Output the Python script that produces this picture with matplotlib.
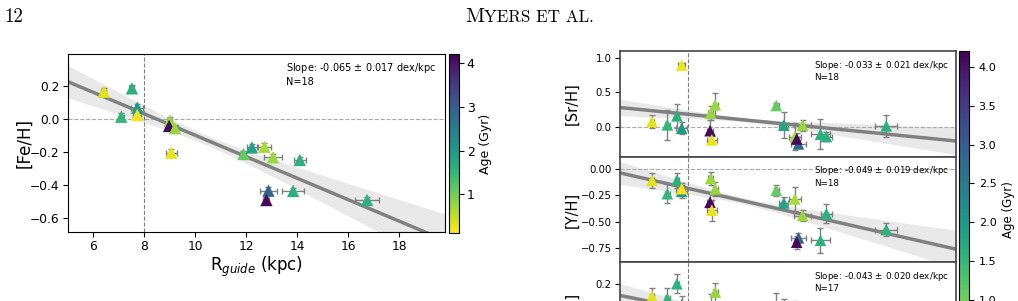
import numpy as np
import matplotlib
matplotlib.use("Agg")
import matplotlib.pyplot as plt
from matplotlib.colors import Normalize

# guiding radius (kpc) and age (Gyr) of the 18 clusters
r_guide = [6.41, 7.51, 7.72, 7.09, 7.72, 9.00, 8.97, 9.20, 9.05,
           11.89, 12.22, 12.71, 13.05, 14.10, 12.87, 12.79, 13.84, 16.74]
r_err = [0.10, 0.10, 0.23, 0.10, 0.15, 0.10, 0.15, 0.10, 0.22,
         0.10, 0.20, 0.26, 0.36, 0.24, 0.34, 0.12, 0.43, 0.48]
age = [0.30, 1.60, 2.00, 1.50, 0.20, 0.75, 4.10, 0.75, 0.25,
       1.10, 1.80, 0.65, 0.75, 1.60, 2.90, 4.10, 1.60, 1.60]

fe_h = [0.164, 0.184, 0.067, 0.012, 0.022, -0.012, -0.044, -0.058, -0.206,
        -0.214, -0.174, -0.170, -0.234, -0.250, -0.436, -0.493, -0.438, -0.493]
fe_err = [0.02, 0.02, 0.02, 0.02, 0.02, 0.02, 0.02, 0.02, 0.025,
          0.02, 0.02, 0.02, 0.02, 0.02, 0.02, 0.02, 0.02, 0.02]

sr_h = [0.073, 0.156, -0.024, 0.025, 0.897, 0.195, -0.060, 0.317, -0.195,
        0.307, 0.020, -0.146, 0.020, -0.146, -0.253, -0.180, -0.111, 0.010]
sr_err = [0.10, 0.18, 0.09, 0.22, 0.03, 0.10, 0.15, 0.17, 0.05,
          0.03, 0.19, 0.20, 0.08, 0.06, 0.06, 0.08, 0.22, 0.16]

y_h = [-0.108, -0.108, -0.213, -0.235, -0.187, -0.089, -0.317, -0.190, -0.393,
       -0.203, -0.323, -0.285, -0.443, -0.425, -0.655, -0.697, -0.678, -0.576]
y_err = [0.07, 0.07, 0.06, 0.09, 0.05, 0.06, 0.10, 0.07, 0.10,
         0.05, 0.06, 0.11, 0.05, 0.09, 0.05, 0.06, 0.12, 0.06]

ba_h = [0.08, 0.20, 0.00, 0.06, np.nan, -0.02, -0.15, 0.12, -0.12,
        -0.02, -0.05, -0.06, -0.30, -0.25, -0.35, -0.40, -0.30, -0.45]
ba_err = [0.08, 0.09, 0.08, 0.10, 0.0, 0.12, 0.10, 0.09, 0.10,
          0.13, 0.10, 0.10, 0.08, 0.09, 0.08, 0.08, 0.12, 0.08]

# linear fits: (intercept, slope, slope error, N)
fit_fe = (0.549, -0.065, 0.017, 18)
fit_sr = (0.443, -0.033, 0.021, 18)
fit_y = (0.208, -0.049, 0.019, 18)
fit_ba = (0.303, -0.043, 0.020, 17)

norm = Normalize(vmin=0.12, vmax=4.21)
cmap = "viridis_r"
xlim = (5.0, 19.8)
r_mean = 10.5


def draw_panel(ax, vals, errs, fit, size, fs, ty):
    ax.axvline(8, color="gray", ls="--", lw=0.8, zorder=1)
    ax.axhline(0, color="darkgray", ls="--", lw=0.8, zorder=1)
    xx = np.linspace(xlim[0] - 1, xlim[1] + 1, 200)
    b, m, dm, n = fit
    line = b + m * xx
    hw = np.sqrt(0.03 ** 2 + (dm * (xx - r_mean)) ** 2)
    ax.fill_between(xx, line - hw, line + hw, color="#e8e8e8", lw=0, zorder=0)
    ax.plot(xx, line, color="gray", lw=2.5, zorder=1.5)
    ax.errorbar(r_guide, vals, xerr=r_err, yerr=errs, fmt="none", ecolor="gray",
                elinewidth=1, capsize=2, capthick=1, zorder=2)
    sc = ax.scatter(r_guide, vals, c=age, cmap=cmap, norm=norm, marker="^",
                    s=size, zorder=3, linewidths=0)
    ax.text(0.578, ty, "Slope: %.3f $\\pm$ %.3f dex/kpc\nN=%d" % (m, dm, n),
            transform=ax.transAxes, fontsize=fs, va="top", ha="left",
            linespacing=1.25)
    ax.set_xlim(*xlim)
    return sc


fig = plt.figure(figsize=(10.18, 3.01), dpi=100)

# page header
fig.text(0.004, 0.943, "12", fontsize=13.5, family="cmr10", va="center")
fig.text(0.4575, 0.943, "M", fontsize=15, family="cmr10", va="center")
fig.text(0.4755, 0.943, "YERS ET AL.", fontsize=12.3, family="cmr10", va="center")

# left: [Fe/H]
ax = fig.add_axes([0.0668, 0.2292, 0.3703, 0.5914])
sc = draw_panel(ax, fe_h, fe_err, fit_fe, 80, 7.0, 0.96)
ax.set_ylim(-0.687, 0.392)
ax.set_xticks([6, 8, 10, 12, 14, 16, 18])
ax.set_yticks([-0.6, -0.4, -0.2, 0.0, 0.2])
ax.tick_params(labelsize=8.8, pad=2.5)
ax.set_ylabel("[Fe/H]", fontsize=12)
ax.yaxis.set_label_coords(-0.093, 0.5)
ax.set_xlabel("R$_{guide}$ (kpc)", fontsize=12, labelpad=1)
cax = fig.add_axes([0.4411, 0.2260, 0.0098, 0.5946])
cb = fig.colorbar(sc, cax=cax, ticks=[1, 2, 3, 4])
cb.ax.tick_params(labelsize=9, pad=2)
cb.set_label("Age (Gyr)", fontsize=9, labelpad=3)

# right: stacked abundance panels
h = 0.3505
lefts = 0.609
w = 0.3298
panels = [
    (sr_h, sr_err, fit_sr, "[Sr/H]", (-0.44, 1.10), [0.0, 0.5, 1.0], "%.1f"),
    (y_h, y_err, fit_y, "[Y/H]", (-0.887, 0.117), [-0.75, -0.5, -0.25, 0.0], "%.2f"),
    (ba_h, ba_err, fit_ba, "[Ba/H]", (-0.6, 0.405), [-0.4, -0.2, 0.0, 0.2], "%.1f"),
]
bottom = 0.4794
for vals, errs, fit, lab, ylim, yt, fmt in panels:
    a = fig.add_axes([lefts, bottom, w, h])
    sc2 = draw_panel(a, vals, errs, fit, 70, 6.3, 0.93)
    a.set_ylim(*ylim)
    a.set_yticks(yt)
    a.set_yticklabels([(fmt % v).replace("-", "\u2212") for v in yt])
    a.tick_params(axis="y", labelsize=7.3, pad=2.5)
    a.tick_params(axis="x", bottom=False, labelbottom=False)
    a.set_ylabel(lab, fontsize=10.5)
    a.yaxis.set_label_coords(-0.12, 0.5)
    for sp in a.spines.values():
        sp.set_color("#444444")
        sp.set_linewidth(1.2)
    bottom -= h

cax2 = fig.add_axes([0.942, bottom + h, 0.0098, 0.8306 - bottom - h])
cb2 = fig.colorbar(sc2, cax=cax2, ticks=[1.0, 1.5, 2.0, 2.5, 3.0, 3.5, 4.0])
cb2.ax.set_yticklabels(["1.0", "1.5", "2.0", "2.5", "3.0", "3.5", "4.0"])
cb2.ax.tick_params(labelsize=8)
cb2.set_label("Age (Gyr)", fontsize=8.5)

fig.savefig("out.png", dpi=100)
